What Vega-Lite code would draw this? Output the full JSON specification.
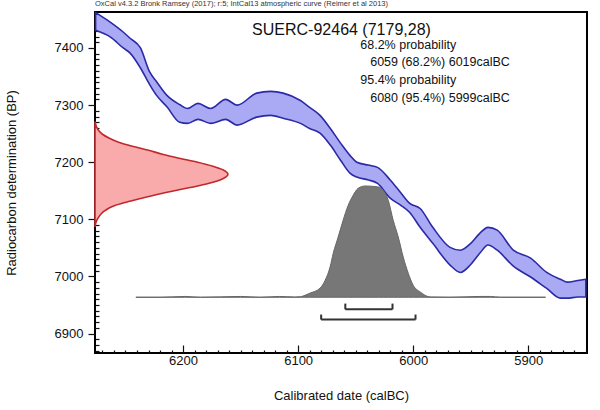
{
  "$schema": "https://vega.github.io/schema/vega-lite/v6.json",
  "width": 492,
  "height": 341,
  "autosize": {"type": "none"},
  "padding": {"left": 95, "top": 12, "right": 13, "bottom": 57},
  "background": "white",
  "title": {
    "text": "OxCal v4.3.2 Bronk Ramsey (2017); r:5; IntCal13 atmospheric curve (Reimer et al 2013)",
    "anchor": "start", "frame": "group", "fontSize": 7.5, "font": "Liberation Sans",
    "fontWeight": "normal", "color": "#333", "offset": 0
  },
  "config": {
    "view": {"stroke": "#000", "strokeWidth": 2},
    "font": "Liberation Sans",
    "axis": {
      "domain": false, "grid": false,
      "labelFont": "Liberation Sans", "titleFont": "Liberation Sans",
      "labelColor": "#111", "titleColor": "#111", "tickColor": "#111",
      "labelFontSize": 13, "titleFontSize": 13, "titleFontWeight": "normal",
      "labelOverlap": false, "labelFlush": false, "labelBound": false, "tickWidth": 1.2
    }
  },
  "datasets": {
    "band": [
      {"cal": 6276, "hi": 7462, "lo": 7431},
      {"cal": 6263, "hi": 7445, "lo": 7419},
      {"cal": 6252, "hi": 7428, "lo": 7400},
      {"cal": 6246, "hi": 7417, "lo": 7391},
      {"cal": 6237, "hi": 7400, "lo": 7365},
      {"cal": 6229, "hi": 7358, "lo": 7336},
      {"cal": 6223, "hi": 7341, "lo": 7317},
      {"cal": 6214, "hi": 7317, "lo": 7297},
      {"cal": 6203, "hi": 7301, "lo": 7270},
      {"cal": 6196, "hi": 7294, "lo": 7268},
      {"cal": 6187, "hi": 7303, "lo": 7275},
      {"cal": 6176, "hi": 7294, "lo": 7268},
      {"cal": 6163, "hi": 7310, "lo": 7275},
      {"cal": 6153, "hi": 7300, "lo": 7265},
      {"cal": 6136, "hi": 7321, "lo": 7279},
      {"cal": 6124, "hi": 7324, "lo": 7282},
      {"cal": 6113, "hi": 7321, "lo": 7277},
      {"cal": 6098, "hi": 7308, "lo": 7268},
      {"cal": 6090, "hi": 7296, "lo": 7259},
      {"cal": 6081, "hi": 7282, "lo": 7251},
      {"cal": 6072, "hi": 7259, "lo": 7230},
      {"cal": 6063, "hi": 7233, "lo": 7203},
      {"cal": 6055, "hi": 7212, "lo": 7181},
      {"cal": 6049, "hi": 7200, "lo": 7174},
      {"cal": 6039, "hi": 7195, "lo": 7169},
      {"cal": 6031, "hi": 7191, "lo": 7163},
      {"cal": 6020, "hi": 7169, "lo": 7137},
      {"cal": 6011, "hi": 7147, "lo": 7125},
      {"cal": 6003, "hi": 7128, "lo": 7112},
      {"cal": 5994, "hi": 7119, "lo": 7086},
      {"cal": 5983, "hi": 7086, "lo": 7058},
      {"cal": 5968, "hi": 7051, "lo": 7020},
      {"cal": 5959, "hi": 7046, "lo": 7007},
      {"cal": 5950, "hi": 7058, "lo": 7021},
      {"cal": 5942, "hi": 7076, "lo": 7041},
      {"cal": 5935, "hi": 7086, "lo": 7055},
      {"cal": 5927, "hi": 7081, "lo": 7046},
      {"cal": 5913, "hi": 7046, "lo": 7018},
      {"cal": 5898, "hi": 7032, "lo": 6999},
      {"cal": 5884, "hi": 7007, "lo": 6979},
      {"cal": 5872, "hi": 6995, "lo": 6962},
      {"cal": 5866, "hi": 6990, "lo": 6962},
      {"cal": 5857, "hi": 6993, "lo": 6964},
      {"cal": 5850, "hi": 6995, "lo": 6964}
    ],
    "red": [
      {"bp": 7088, "cal": 6276.4},
      {"bp": 7095, "cal": 6275.6},
      {"bp": 7102, "cal": 6273.9},
      {"bp": 7109, "cal": 6271.4},
      {"bp": 7116, "cal": 6267.3},
      {"bp": 7123, "cal": 6260.9},
      {"bp": 7130, "cal": 6249.5},
      {"bp": 7137, "cal": 6236.0},
      {"bp": 7144, "cal": 6221.6},
      {"bp": 7151, "cal": 6205.4},
      {"bp": 7158, "cal": 6188.3},
      {"bp": 7165, "cal": 6174.0},
      {"bp": 7172, "cal": 6164.6},
      {"bp": 7179, "cal": 6161.0},
      {"bp": 7186, "cal": 6164.6},
      {"bp": 7193, "cal": 6174.0},
      {"bp": 7200, "cal": 6187.3},
      {"bp": 7207, "cal": 6203.4},
      {"bp": 7214, "cal": 6218.0},
      {"bp": 7221, "cal": 6230.0},
      {"bp": 7228, "cal": 6244.0},
      {"bp": 7235, "cal": 6256.0},
      {"bp": 7242, "cal": 6264.0},
      {"bp": 7249, "cal": 6270.0},
      {"bp": 7256, "cal": 6273.5},
      {"bp": 7263, "cal": 6275.4},
      {"bp": 7270, "cal": 6276.3}
    ],
    "post": [
      {"cal": 6241, "bp": 6963.6},
      {"cal": 6220, "bp": 6963.6},
      {"cal": 6198, "bp": 6965.0},
      {"cal": 6185, "bp": 6963.6},
      {"cal": 6150, "bp": 6965.0},
      {"cal": 6133, "bp": 6963.6},
      {"cal": 6116, "bp": 6965.0},
      {"cal": 6103, "bp": 6964.0},
      {"cal": 6098, "bp": 6964.6},
      {"cal": 6090, "bp": 6970.6},
      {"cal": 6081, "bp": 6979.4},
      {"cal": 6076.5, "bp": 6993.4},
      {"cal": 6072.2, "bp": 7016.8},
      {"cal": 6069.5, "bp": 7040.6},
      {"cal": 6065.2, "bp": 7069.1},
      {"cal": 6060.9, "bp": 7098.4},
      {"cal": 6056.5, "bp": 7124.6},
      {"cal": 6052.2, "bp": 7142.1},
      {"cal": 6047.8, "bp": 7154.4},
      {"cal": 6041.7, "bp": 7158.4},
      {"cal": 6030.4, "bp": 7156.7},
      {"cal": 6026.1, "bp": 7150.9},
      {"cal": 6021.7, "bp": 7133.4},
      {"cal": 6017.4, "bp": 7098.4},
      {"cal": 6013.0, "bp": 7069.1},
      {"cal": 6008.7, "bp": 7034.1},
      {"cal": 6004.3, "bp": 7005.6},
      {"cal": 6000.0, "bp": 6984.6},
      {"cal": 5993.9, "bp": 6972.8},
      {"cal": 5985.2, "bp": 6964.1},
      {"cal": 5968, "bp": 6963.6},
      {"cal": 5942, "bp": 6965.0},
      {"cal": 5933, "bp": 6965.0},
      {"cal": 5924, "bp": 6963.6},
      {"cal": 5885, "bp": 6963.6}
    ],
    "ranges": [
      {"lo": 6059, "hi": 6018, "y": 6942.5, "ytop": 6952.5},
      {"lo": 6080, "hi": 5998, "y": 6924.5, "ytop": 6933.3}
    ],
    "texts": [
      {"t": "SUERC-92464 (7179,28)", "cal": 6140, "bp": 7431, "k": "head"},
      {"t": "68.2% probability", "cal": 6046, "bp": 7406, "k": "line"},
      {"t": "6059 (68.2%) 6019calBC", "cal": 6037.4, "bp": 7375, "k": "line"},
      {"t": "95.4% probability", "cal": 6046, "bp": 7344, "k": "line"},
      {"t": "6080 (95.4%) 5999calBC", "cal": 6037.4, "bp": 7313, "k": "line"}
    ]
  },
  "encoding": {
    "x": {
      "type": "quantitative",
      "scale": {"domain": [5849, 6276.5], "reverse": true, "nice": false, "zero": false},
      "axis": {
        "title": "Calibrated date (calBC)",
        "values": [5850,5860,5870,5880,5890,5900,5910,5920,5930,5940,5950,5960,5970,5980,5990,6000,6010,6020,6030,6040,6050,6060,6070,6080,6090,6100,6110,6120,6130,6140,6150,6160,6170,6180,6190,6200,6210,6220,6230,6240,6250,6260,6270],
        "format": "d",
        "labelExpr": "datum.value % 100 === 0 ? datum.label : ''",
        "tickSize": {"condition": {"test": "datum.value % 100 === 0", "value": -8}, "value": -3},
        "labelPadding": 9,
        "titlePadding": 17
      }
    },
    "y": {
      "type": "quantitative",
      "scale": {"domain": [6866, 7463], "nice": false, "zero": false},
      "axis": {
        "title": "Radiocarbon determination (BP)",
        "values": [6870,6880,6890,6900,6910,6920,6930,6940,6950,6960,6970,6980,6990,7000,7010,7020,7030,7040,7050,7060,7070,7080,7090,7100,7110,7120,7130,7140,7150,7160,7170,7180,7190,7200,7210,7220,7230,7240,7250,7260,7270,7280,7290,7300,7310,7320,7330,7340,7350,7360,7370,7380,7390,7400,7410,7420,7430,7440,7450,7460],
        "format": "d",
        "labelExpr": "datum.value % 100 === 0 ? datum.label : ''",
        "tickSize": {"condition": {"test": "datum.value % 100 === 0", "value": 7}, "value": -4},
        "labelPadding": 5,
        "titlePadding": 36
      }
    }
  },
  "layer": [
    {
      "data": {"name": "band"},
      "mark": {"type": "area", "fill": "#aaaaf4", "stroke": "#2a2aa6", "strokeWidth": 1.6, "interpolate": "monotone"},
      "encoding": {
        "x": {"field": "cal"},
        "y": {"field": "hi"},
        "y2": {"field": "lo"}
      }
    },
    {
      "data": {"name": "red"},
      "mark": {"type": "area", "orient": "horizontal", "fill": "#f9aaaa", "stroke": "#c0282d", "strokeWidth": 1.6, "interpolate": "monotone"},
      "encoding": {
        "y": {"field": "bp"},
        "x": {"field": "cal"},
        "x2": {"datum": 6276.5}
      }
    },
    {
      "data": {"name": "post"},
      "mark": {"type": "area", "fill": "#777777", "stroke": "#666666", "strokeWidth": 1, "interpolate": "monotone"},
      "encoding": {
        "x": {"field": "cal"},
        "y": {"field": "bp"},
        "y2": {"datum": 6963.6}
      }
    },
    {
      "data": {"name": "ranges"},
      "mark": {"type": "rule", "stroke": "#333", "strokeWidth": 2},
      "encoding": {
        "x": {"field": "lo"},
        "x2": {"field": "hi"},
        "y": {"field": "y"}
      }
    },
    {
      "data": {"name": "ranges"},
      "mark": {"type": "rule", "stroke": "#333", "strokeWidth": 2},
      "encoding": {
        "x": {"field": "lo"},
        "y": {"field": "y"},
        "y2": {"field": "ytop"}
      }
    },
    {
      "data": {"name": "ranges"},
      "mark": {"type": "rule", "stroke": "#333", "strokeWidth": 2},
      "encoding": {
        "x": {"field": "hi"},
        "y": {"field": "y"},
        "y2": {"field": "ytop"}
      }
    },
    {
      "data": {"name": "texts"},
      "transform": [{"filter": "datum.k === 'head'"}],
      "mark": {"type": "text", "align": "left", "baseline": "middle", "fontSize": 16, "font": "Liberation Sans", "color": "#111"},
      "encoding": {
        "x": {"field": "cal"},
        "y": {"field": "bp"},
        "text": {"field": "t"}
      }
    },
    {
      "data": {"name": "texts"},
      "transform": [{"filter": "datum.k === 'line'"}],
      "mark": {"type": "text", "align": "left", "baseline": "middle", "fontSize": 12.5, "font": "Liberation Sans", "color": "#111"},
      "encoding": {
        "x": {"field": "cal"},
        "y": {"field": "bp"},
        "text": {"field": "t"}
      }
    }
  ]
}
